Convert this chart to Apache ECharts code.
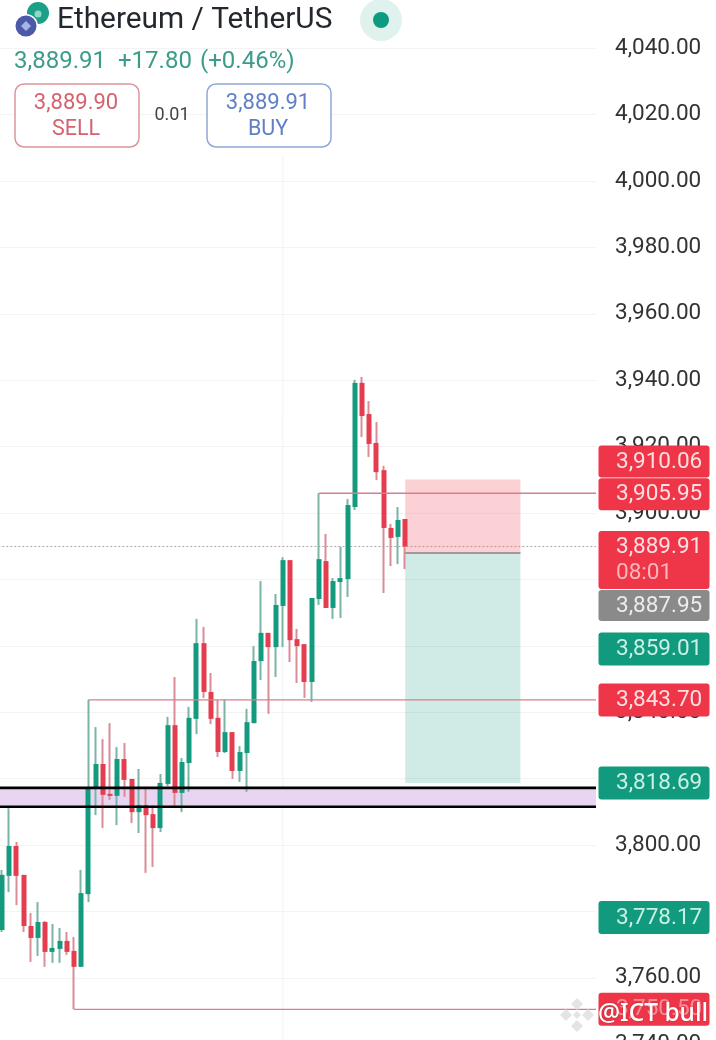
<!DOCTYPE html>
<html><head><meta charset="utf-8">
<style>html,body{margin:0;padding:0;background:#fff}#c{width:716px;height:1040px}</style>
<script src="https://cdn.jsdelivr.net/npm/echarts@6/dist/echarts.min.js"></script>
</head><body><div id="c"></div>
<script>
// ---------- data ----------
const opens = [3774.4,3790.7,3799.7,3791.0,3775.6,3772.0,3776.8,3767.8,3768.7,3771.1,3768.1,3763.3,3785.2,3817.2,3824.4,3815.4,3814.8,3825.9,3819.9,3809.9,3812.0,3809.3,3805.1,3818.4,3836.1,3815.7,3824.7,3838.0,3860.8,3846.1,3838.3,3828.0,3834.0,3822.3,3827.7,3836.7,3855.4,3863.9,3859.6,3872.0,3885.8,3862.0,3860.5,3849.1,3874.1,3885.5,3871.4,3879.2,3880.1,3901.8,3939.2,3929.8,3921.1,3912.9,3895.5,3892.8,3898.2];
const closes = [3791.0,3799.7,3790.7,3775.6,3772.0,3776.8,3767.8,3769.0,3771.1,3767.8,3763.3,3785.5,3817.2,3824.4,3815.1,3814.8,3825.9,3819.6,3809.9,3812.0,3809.0,3805.1,3818.7,3836.1,3815.7,3825.0,3838.3,3860.8,3846.1,3838.0,3828.0,3834.0,3822.3,3828.0,3837.0,3855.4,3863.9,3859.6,3872.3,3885.8,3861.7,3859.9,3849.1,3874.4,3886.1,3871.4,3879.5,3880.4,3902.4,3939.2,3929.2,3920.8,3912.3,3895.5,3892.5,3897.9,3889.9];
const lows = [3773.8,3785.8,3781.9,3773.8,3764.8,3766.6,3763.3,3764.5,3764.5,3766.9,3750.5,3763.3,3782.8,3809.0,3805.1,3813.6,3806.0,3814.5,3806.6,3803.6,3791.6,3793.4,3803.9,3817.8,3811.4,3809.9,3816.0,3833.4,3844.3,3836.4,3826.5,3827.7,3819.9,3819.0,3816.0,3836.7,3849.7,3839.5,3850.6,3859.6,3855.1,3848.8,3844.3,3843.1,3872.3,3871.4,3868.1,3868.4,3874.7,3900.9,3922.9,3916.9,3909.9,3875.9,3884.0,3884.6,3883.1];
const highs = [3792.5,3811.1,3800.9,3791.0,3779.5,3782.8,3777.1,3776.2,3775.0,3773.8,3772.3,3792.5,3843.7,3835.5,3831.9,3836.7,3829.5,3830.7,3819.9,3822.9,3817.5,3812.0,3821.4,3838.6,3850.6,3826.2,3841.6,3868.1,3865.7,3851.8,3843.7,3843.7,3834.0,3829.8,3841.0,3859.9,3879.5,3863.9,3875.6,3886.7,3885.8,3865.1,3860.5,3874.4,3905.95,3893.7,3880.4,3889.8,3904.2,3940.1,3941.0,3933.7,3927.4,3914.2,3896.7,3901.8,3898.2];
const barSlots = Array.from({length:83},(_, i)=>String(i));

const levelValues = [3905.95,3843.70,3750.50];
const levelStartBars = [44,12,10];
const zoneValues = [3817.2,3811.5];
const currentPrice = 3889.91;
const entryPrice = 3887.95;
const stopPrice = 3910.06;
const targetPrice = 3818.69;
const positionBars = [56,72];

const tagValues = [3910.06,3905.95,3889.91,3887.95,3859.01,3843.70,3818.69,3778.17,3750.50];
const tagSecondLine = ['','','08:01','','','','','',''];
const tagKinds = ['red','red','red','grey','green','red','green','green','red'];
const tagFaded = [false,false,false,false,false,false,false,false,true];
// ---------- style / layout ----------
const tagTops = [-34,-15,-15.5,37,-16.5,-16.5,-16.5,-16.5,-16.5];
const tagHeights = [32,32,58,31,33,33,33,33,33];
const fills = {red:'#ef3648',green:'#129a7e',grey:'#8a8a8a'};
const inks = {red:'#fbdfe2',green:'#c9f0e5',grey:'#ececec'};
const FONT = 'Roboto';
const GREEN='#149a7f', RED='#e43d4f', WICK_G='#79b5a7', WICK_R='#d98d97';
const fmt = v => v.toLocaleString('en-US',{minimumFractionDigits:2,maximumFractionDigits:2});

const candleAll = opens.map((o,i)=>[o,closes[i],lows[i],highs[i]]);
const candleBody = opens.map((o,i)=>[o,closes[i],Math.min(o,closes[i]),Math.max(o,closes[i])]);

function lineSeries(name,points,color,width,type,z){
  return {name,type:'line',xAxisIndex:1,yAxisIndex:0,data:points,symbol:'none',silent:true,animation:false,z,
    lineStyle:{color,width,type:type||'solid'}};
}
function rectSeries(name,x0,x1,y0,y1,color,z){
  return {name,type:'custom',xAxisIndex:1,yAxisIndex:0,silent:true,animation:false,z,
    data:[[x0,x1,y0,y1]],encode:{x:[0,1],y:[2,3]},
    renderItem(p,api){
      const a=api.coord([api.value(0),api.value(2)]),b=api.coord([api.value(1),api.value(3)]);
      return {type:'rect',shape:{x:a[0],y:a[1],width:b[0]-a[0],height:b[1]-a[1]},style:{fill:color}};
    }};
}
const series = [
  lineSeries('session',[[39,3740],[39,4008]],'#f2f2f2',1,'solid',0),
  rectSeries('zone',-0.5,82.5,zoneValues[0],zoneValues[1],'#e8d5f1',1),
  rectSeries('stop',positionBars[0],positionBars[1],stopPrice,entryPrice,'rgba(247,120,134,.34)',3),
  rectSeries('target',positionBars[0],positionBars[1],entryPrice,targetPrice,'rgba(20,154,127,.2)',3),
  lineSeries('last',[[-0.5,currentPrice],[82.5,currentPrice]],'#b0a4a6',1,[2,2],2),
  {name:'wicks',type:'candlestick',xAxisIndex:0,yAxisIndex:0,data:candleAll,barWidth:1,silent:true,animation:false,z:4,
    itemStyle:{color:WICK_G,color0:WICK_R,borderColor:WICK_G,borderColor0:WICK_R,borderWidth:2}},
  {name:'bodies',type:'candlestick',xAxisIndex:0,yAxisIndex:0,data:candleBody,barWidth:5.4,silent:true,animation:false,z:5,
    itemStyle:{color:GREEN,color0:RED,borderColor:GREEN,borderColor0:RED,borderWidth:0}},
  lineSeries('entry',[[positionBars[0],entryPrice],[positionBars[1],entryPrice]],'#a8949a',2,'solid',6),
];
levelValues.forEach((v,i)=>series.push(lineSeries('level'+i,[[levelStartBars[i],v],[82.5,v]],'#d87f8b',1.4,'solid',6)));
zoneValues.forEach((v,i)=>series.push(lineSeries('zoneEdge'+i,[[-0.5,v],[82.5,v]],'#000',2.6,'solid',7)));
series.push({name:'tags',type:'custom',xAxisIndex:1,yAxisIndex:0,silent:true,animation:false,z:8,clip:false,
  data:tagValues.map((v,i)=>[82.5,v,i]),encode:{x:0,y:1},
  renderItem(p,api){
    const i=api.value(2),pt=api.coord([82.5,api.value(1)]),k=tagKinds[i];
    const top=pt[1]+tagTops[i],h=tagHeights[i],left=pt[0]+2.5;
    const oneLine=!tagSecondLine[i];
    const kids=[{type:'rect',shape:{x:left,y:top,width:111,height:h,r:3},style:{fill:fills[k]}},
      {type:'text',style:{x:left+17.5,y:oneLine?top+h/2+0.5:top+16,text:fmt(api.value(1)),fill:tagFaded[i]?'#f58d98':inks[k],font:'22.5px '+FONT,textVerticalAlign:'middle'}}];
    if(!oneLine)kids.push({type:'text',style:{x:left+17.5,y:top+42,text:tagSecondLine[i],fill:'#fbb5bc',font:'22.5px '+FONT,textVerticalAlign:'middle'}});
    return {type:'group',children:kids};
  }});

// header helpers
const txt=(x,y,text,fill,size,align)=>({type:'text',z:20,style:{x,y,text,fill,font:size+'px '+FONT,textAlign:align||'left',textVerticalAlign:'middle'}});
const box=(x,y,w,h,stroke)=>({type:'rect',z:20,shape:{x,y,width:w,height:h,r:9},style:{fill:'#fff',stroke,lineWidth:1.5}});
const circ=(cx,cy,r,fill)=>({type:'circle',z:20,shape:{cx,cy,r},style:{fill}});
const dia=(cx,cy,r,fill,z)=>({type:'polygon',z:z||21,shape:{points:[[cx,cy-r],[cx+r,cy],[cx,cy+r],[cx-r,cy]]},style:{fill}});
const graphics=[
  circ(38,13,11,'#1b9f86'),circ(38,14,3.5,'#8fd8c8'),circ(26,26,12,'#fff'),circ(26,26,10.5,'#4c58a8'),
  dia(26,26,5,'#aab3e6'),
  txt(57,20.5,'Ethereum / TetherUS','#23272e',29.8),
  circ(381,20,21,'#e0f2ee'),circ(381,20,8,'#0e9a7e'),
  txt(14,62,'3,889.91','#3a9c89',24),txt(118,62,'+17.80','#3a9c89',24),txt(200,62,'(+0.46%)','#3a9c89',24),
  box(15,84,124,63,'#dd959c'),txt(76,103,'3,889.90','#d4626f',22,'center'),txt(76,129.5,'SELL','#d4626f',21.5,'center'),
  txt(172,115,'0.01','#444',18,'center'),
  box(207,84,124,63,'#8fa8d8'),txt(268,103,'3,889.91','#5f7fc6',22,'center'),txt(268,129.5,'BUY','#5f7fc6',21.5,'center'),
  // watermark
  dia(577,1004,6,'#e4e4e4',30),dia(566,1015,6,'#e4e4e4',30),dia(588,1015,6,'#e4e4e4',30),dia(577,1026,6,'#e4e4e4',30),dia(577,1015,4,'#e4e4e4',30),
  {type:'text',z:30,style:{x:598,y:1014,text:'@ICT bull',fill:'#fff',font:'500 24.5px "Noto Sans"',textVerticalAlign:'middle',textShadowColor:'rgba(0,0,0,.25)',textShadowBlur:2}},
];

const chart = echarts.init(document.getElementById('c'),null,{renderer:'canvas',width:716,height:1040});
chart.setOption({
  animation:false,backgroundColor:'#fff',
  grid:{left:-1.6,top:-18.2,width:597.6,height:1062.4,containLabel:false,outerBoundsMode:'none'},
  xAxis:[
    {type:'category',data:barSlots,show:false,boundaryGap:true},
    {type:'value',min:-0.5,max:82.5,show:false,splitLine:{show:false}},
  ],
  yAxis:[{type:'value',position:'right',min:3740,max:4060,interval:20,scale:true,
    axisLine:{show:false},axisTick:{show:false},
    axisLabel:{show:true,margin:19,color:'#333',fontFamily:FONT,fontSize:22.5,padding:[0,0,4,0],formatter:v=>fmt(v),showMaxLabel:false},
    splitLine:{show:true,lineStyle:{color:'#f3f3f3',width:1}}}],
  series,graphic:graphics
});
</script></body></html>
